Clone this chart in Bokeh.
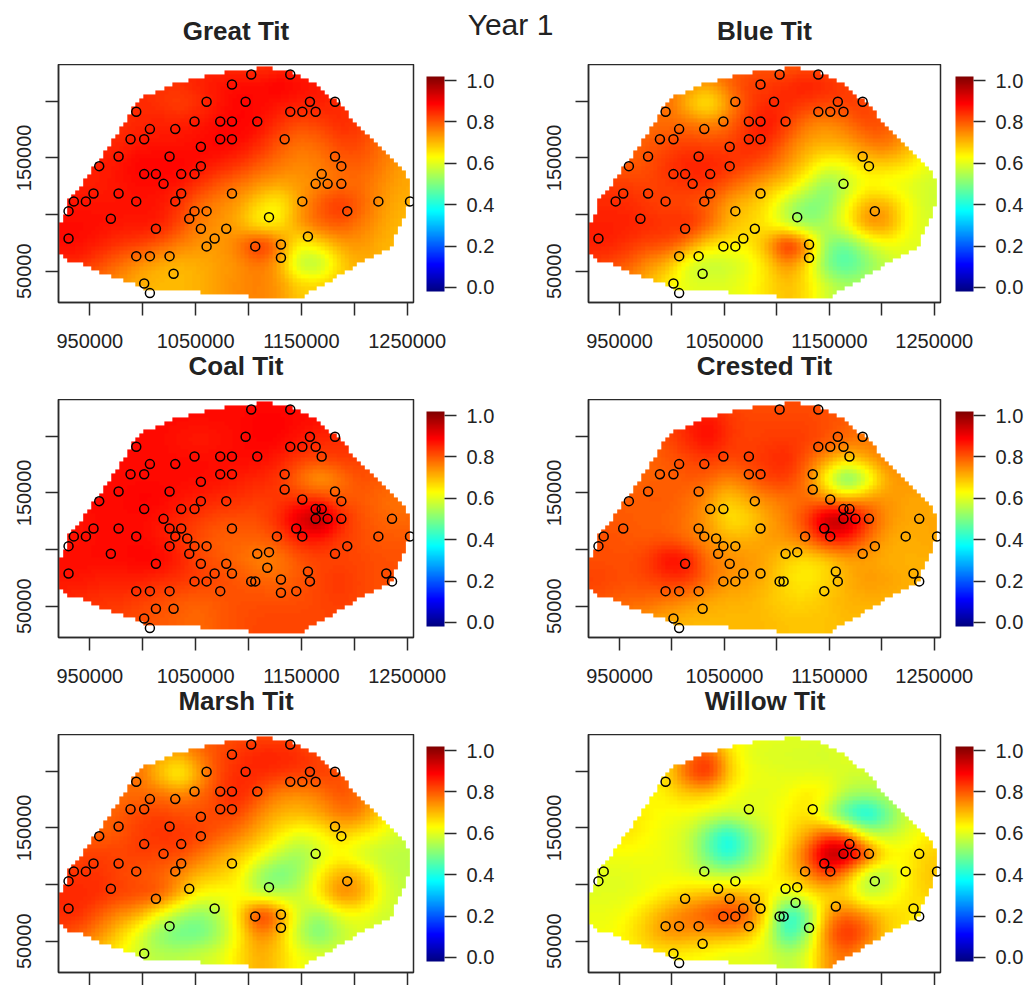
from bokeh.plotting import figure
from bokeh.layouts import column, row
from bokeh.models import ColorBar, FixedTicker, LinearColorMapper, NumeralTickFormatter, Range1d
from bokeh.core.properties import value
from bokeh.embed import file_html
from bokeh.resources import INLINE
import numpy as np

FONT = "Liberation Sans"
X_RANGE = (920400, 1256000)
Y_RANGE = (22400, 232400)
X_TICKS = [950000, 1000000, 1050000, 1100000, 1150000, 1200000, 1250000]
X_LABELLED = [950000, 1050000, 1150000, 1250000]
Y_TICKS = [50000, 100000, 150000, 200000]
Y_LABELLED = [50000, 150000]
BAR_TICKS = [0.0, 0.2, 0.4, 0.6, 0.8, 1.0]

# survey sites, thousands of map units
site_x = [1102.6,1139.5,1097.3,1158.1,1181.8,993.9,1139.5,1150.9,1163.5,1169.2,
          1049.0,1073.3,1084.4,1108.3,1006.8,1030.8,988.5,1001.4,1073.3,1084.4,
          1134.2,1055.0,977.2,1025.4,1134.2,1181.8,958.9,1055.0,1079.0,1150.9,
          1187.8,1001.4,1036.4,1049.0,1163.5,1169.2,1019.7,1163.5,1174.8,1187.8,
          1235.7,953.5,977.2,1025.4,1036.4,1084.4,1145.2,934.9,946.3,993.9,
          1030.8,1042.1,1126.9,1150.9,1222.8,1252.7,929.9,1025.4,1049.0,1060.4,
          1193.4,969.9,1044.0,1108.3,1119.4,1181.8,1012.5,1055.0,1079.0,1117.8,
          929.9,1068.0,1084.4,1156.2,1230.3,1049.0,1060.4,1102.6,1106.4,1130.7,
          1158.1,1235.7,993.9,1006.8,1025.4,1073.3,1130.7,1145.2,1012.5,1029.2,
          1001.4,1006.8,1084.4,1012.5,1060.4]
site_y = [223.6,223.6,199.5,199.5,199.5,190.7,190.7,190.7,190.7,182.1,
          182.1,182.1,182.1,182.1,175.4,175.4,166.5,166.5,166.5,166.5,
          166.5,159.8,151.3,151.3,153.0,151.3,142.7,142.7,142.7,144.2,
          142.7,135.7,135.7,135.7,135.7,135.7,127.1,127.1,127.1,127.1,
          127.1,118.6,118.6,118.6,118.6,118.6,118.6,111.6,111.6,111.6,
          111.6,109.8,111.6,111.6,111.6,111.6,103.0,103.0,103.0,103.0,
          103.0,96.3,96.3,96.3,97.7,96.3,87.5,87.5,87.5,83.9,
          78.9,78.9,78.9,80.7,78.9,71.9,71.9,71.9,71.9,73.6,
          71.9,71.9,63.3,63.3,63.3,63.3,61.9,63.3,47.8,47.8,
          39.2,30.7,214.8,135.7,199.5]

# sites (1-based) at which each species was recorded
great_sites = [1,2,93,3,4,5,6,7,8,9,95,11,12,13,14,15,16,17,18,19,20,21,22,23,24,26,27,28,32,94,33,34,
               31,36,37,38,39,40,42,43,45,46,48,49,50,51,54,55,56,57,59,60,61,62,63,65,67,68,69,71,72,
               74,77,79,80,83,84,85,87,90,91,92]
blue_sites = [1,2,93,3,4,5,95,6,7,8,9,11,12,13,14,15,16,17,18,19,20,22,23,24,26,27,28,31,32,94,33,38,37,
              42,49,43,45,46,50,51,60,61,65,62,67,69,71,72,77,76,84,85,80,87,90,91,92]
coal_sites = [i for i in range(1, 93)]
crested_sites = [1,2,4,5,7,8,9,10,11,12,15,16,17,18,19,20,21,25,23,24,27,29,30,33,34,35,36,38,39,40,41,42,
                 44,46,47,48,51,52,53,54,55,56,57,59,60,61,64,65,66,63,67,68,72,73,74,76,77,78,79,81,75,
                 82,83,84,85,88,90,91,92]
marsh_sites = [1,2,93,3,4,5,95,6,7,8,9,11,12,13,14,15,16,17,18,19,20,22,23,24,26,27,28,31,32,33,37,38,42,
               43,45,46,48,49,50,51,57,62,63,65,67,71,72,85,61,79,80,87,91]
willow_sites = [6,19,21,48,57,51,60,63,67,68,69,72,73,76,77,78,79,86,83,84,85,90,91,92,65,64,70,87,74,36,
                38,39,40,47,54,53,41,55,56,61,75,82]

# outline of the mapped region
outline_x = [1108.0,1108.0,1082.8,1060.7,1038.6,1024.5,1011.8,998.6,991.3,982.5,977.2,969.3,958.2,945.6,
             940.9,929.9,924.2,922.9,922.9,928.3,944.0,956.7,969.3,988.2,1008.7,1054.4,1054.4,1100.1,
             1100.1,1150.6,1156.9,1171.1,1183.7,1204.2,1219.9,1235.7,1235.7,1245.2,1251.5,1251.5,1245.2,
             1235.7,1223.1,1207.3,1194.7,1182.1,1169.5,1155.3,1141.1,1120.6,1120.6]
outline_y = [232.4,228.9,227.1,222.1,217.7,213.3,207.4,203.0,194.2,180.9,172.1,161.8,147.1,131.0,
             122.2,111.9,92.8,91.3,63.4,58.9,56.0,50.1,45.7,39.8,32.5,31.9,29.0,29.0,
             26.6,26.6,32.5,36.9,45.7,56.0,63.4,72.2,79.5,94.2,111.9,128.0,138.3,
             148.6,158.9,173.6,188.3,200.1,210.4,219.2,225.1,229.5,232.4]

# surfaces on a coarse lattice, hundredths; first row is the northernmost
lattice_x = [920.4,939.3,958.2,977.2,996.1,1015.0,1033.9,1052.8,1071.7,1090.7,1109.6,1128.5,1147.4,1166.3,1185.3,1204.2,1223.1,1242.0,1260.9]
lattice_y = [232.4,214.8,197.1,179.5,161.8,144.2,126.6,108.9,91.3,73.6,56.0,38.4]

great_z = [
 [85,85,85,85,85,85,85,85,85,84,83,84,85,85,85,85,80,76,74],
 [85,85,85,85,85,84,84,86,87,88,88,90,88,87,85,83,80,76,74],
 [84,84,84,85,85,84,82,84,87,89,88,87,86,86,85,83,80,76,74],
 [84,85,85,84,85,86,86,87,88,89,88,84,81,82,85,84,79,76,74],
 [84,85,85,85,87,87,87,88,89,88,85,80,77,78,82,82,78,75,73],
 [84,85,86,87,89,89,89,88,86,84,80,77,75,76,79,80,77,73,72],
 [86,86,86,87,88,88,87,84,80,77,74,72,73,75,77,78,75,72,72],
 [87,87,87,87,87,87,84,78,75,73,66,62,73,80,85,80,74,71,71],
 [88,88,88,87,87,87,82,76,74,71,62,64,74,79,81,77,73,70,70],
 [88,88,86,84,83,80,76,74,73,77,88,78,62,66,72,74,71,70,70],
 [85,85,82,78,74,71,70,71,73,74,77,72,55,53,66,72,70,70,70],
 [80,78,76,74,71,70,70,71,73,75,76,74,68,68,70,70,70,70,70]]
blue_z = [
 [80,80,80,80,80,80,80,80,80,80,79,80,81,80,78,75,70,65,60],
 [80,80,80,80,78,74,72,78,83,83,85,87,85,83,81,77,72,65,60],
 [79,79,79,79,78,69,62,73,82,85,85,83,82,83,83,79,74,65,60],
 [78,79,79,77,78,78,76,78,84,88,83,76,74,77,82,81,74,66,60],
 [78,79,79,80,82,83,82,82,85,85,78,72,71,72,76,78,72,65,60],
 [80,80,79,81,84,86,86,85,83,80,74,68,61,63,68,68,66,61,59],
 [83,83,83,82,83,84,84,80,76,71,68,60,50,56,62,60,60,58,58],
 [85,85,85,83,82,81,79,72,69,66,55,49,50,62,72,72,63,58,58],
 [86,86,86,85,84,86,80,71,68,64,56,50,55,64,76,75,63,59,59],
 [86,86,84,82,82,76,66,65,64,72,91,78,50,47,56,62,60,60,60],
 [83,82,80,74,70,58,56,57,60,66,75,66,48,43,50,56,60,60,60],
 [78,76,74,70,64,60,60,60,62,66,70,66,58,54,56,60,60,60,60]]
coal_z = [
 [88,88,88,88,88,88,88,88,88,88,88,88,88,88,86,84,82,80,79],
 [88,88,88,88,88,88,88,88,88,88,89,89,88,88,86,84,82,80,79],
 [88,88,88,88,88,88,87,86,87,88,89,89,87,85,85,84,82,80,79],
 [88,88,88,88,88,88,88,88,88,88,88,86,83,82,83,83,81,80,79],
 [88,88,88,88,88,88,88,88,87,86,85,84,77,71,76,81,80,79,78],
 [88,88,88,88,89,89,87,86,85,84,83,83,84,84,80,80,78,77,77],
 [87,87,88,88,88,87,85,83,81,81,81,85,94,100,87,81,79,78,79],
 [87,87,88,88,88,87,84,81,79,79,79,81,86,86,83,81,80,80,80],
 [88,88,88,88,89,89,86,82,80,78,75,76,80,82,82,82,81,81,80],
 [87,87,86,86,86,85,84,83,82,80,79,78,80,82,84,82,81,81,80],
 [85,85,84,84,83,81,80,79,80,81,81,81,81,82,83,82,81,80,80],
 [83,83,83,82,81,80,79,78,80,81,82,82,82,82,82,82,81,80,80]]
crested_z = [
 [80,80,80,80,80,81,82,82,81,81,81,81,81,80,78,76,74,72,72],
 [80,80,80,80,82,86,88,84,82,82,82,82,81,80,78,76,74,72,72],
 [79,79,79,79,82,85,89,84,82,83,83,83,81,78,77,77,75,72,72],
 [78,79,79,79,80,82,83,82,83,84,86,80,73,68,72,77,75,73,72],
 [78,79,79,79,79,80,79,75,78,83,83,77,60,42,56,72,74,73,72],
 [79,80,79,80,80,78,74,67,72,75,77,78,75,72,75,74,72,72,71],
 [80,80,80,79,79,77,73,65,66,72,76,83,99,99,84,74,72,72,72],
 [81,81,80,80,80,77,74,71,71,73,74,78,87,86,78,72,71,72,72],
 [81,81,81,83,90,88,77,75,74,72,67,65,67,72,72,71,71,71,71],
 [83,82,81,82,84,84,78,74,73,71,66,64,67,71,74,73,71,71,71],
 [81,80,79,79,77,75,72,71,71,69,67,67,69,71,71,71,71,71,71],
 [78,77,75,73,71,70,70,70,70,70,69,69,69,70,70,70,70,70,70]]
marsh_z = [
 [80,80,80,80,80,80,80,80,80,81,81,81,81,80,78,75,70,64,60],
 [80,80,80,80,78,72,71,77,82,84,86,86,85,82,80,76,70,64,60],
 [78,78,78,78,78,69,60,72,82,85,85,84,83,83,82,77,70,63,60],
 [77,77,77,77,78,78,76,78,83,86,81,75,74,76,81,79,70,62,59],
 [76,77,78,80,82,83,81,81,82,82,75,71,70,72,77,77,68,60,58],
 [79,79,79,80,83,84,84,83,80,76,71,65,60,62,68,65,62,58,57],
 [82,82,83,82,83,82,82,78,73,69,64,57,52,58,62,58,56,56,56],
 [84,84,84,82,80,79,75,70,68,65,52,47,52,64,72,71,60,56,56],
 [85,85,85,83,82,82,72,63,62,63,55,55,57,66,77,75,62,57,57],
 [85,85,80,75,72,62,54,50,55,66,89,78,58,52,60,62,58,58,58],
 [82,80,75,68,60,50,47,47,53,64,76,70,55,47,55,60,58,58,58],
 [75,72,68,64,58,56,56,58,60,66,72,68,62,60,60,60,60,60,60]]
willow_z = [
 [62,62,62,62,62,62,62,62,62,61,60,60,60,60,60,60,60,60,60],
 [63,63,63,63,66,78,84,68,60,59,59,59,58,60,61,60,60,60,60],
 [63,63,63,64,67,81,87,70,62,61,60,60,60,59,58,58,60,60,60],
 [63,63,63,63,65,68,67,63,60,60,62,66,64,55,54,56,60,60,60],
 [64,65,66,64,62,62,60,58,60,61,64,66,55,40,33,46,58,60,60],
 [64,65,66,63,61,58,47,37,48,58,65,72,82,78,58,56,60,64,66],
 [62,62,62,62,61,58,47,37,48,59,68,80,100,100,84,66,64,68,68],
 [60,60,60,61,61,60,57,56,58,62,68,74,84,72,54,55,64,69,69],
 [60,60,60,62,65,68,70,72,70,66,59,65,66,65,55,60,65,68,68],
 [61,61,63,68,74,78,82,85,82,66,38,46,73,80,74,68,66,64,64],
 [62,62,65,70,75,74,72,72,70,60,40,52,78,87,80,68,64,64,64],
 [62,62,63,64,64,63,62,60,60,60,56,60,74,78,70,64,64,64,64]]


def jet(n=256):
    t = (np.arange(n) + 0.5) / n
    out = []
    for v in t:
        r = np.clip(min(4 * v - 1.5, -4 * v + 4.5), 0, 1)
        g = np.clip(min(4 * v - 0.5, -4 * v + 3.5), 0, 1)
        b = np.clip(min(4 * v + 0.5, -4 * v + 2.5), 0, 1)
        out.append("#%02x%02x%02x" % (int(r * 255), int(g * 255), int(b * 255)))
    return out


mapper = LinearColorMapper(palette=jet(), low=-0.02, high=1.02, nan_color="rgba(0,0,0,0)")

cell_x = np.arange(922.9 - 1.9, 1256, 3.8)
cell_y = np.arange(22.4, 232.4, 3.53)
grid_x, grid_y = np.meshgrid(cell_x + 1.9, cell_y + 1.76)


def inside(px, py, vx, vy):
    vx, vy = np.asarray(vx), np.asarray(vy)
    res = np.zeros(px.shape, bool)
    j = len(vx) - 1
    for i in range(len(vx)):
        cross = (vy[i] > py) != (vy[j] > py)
        with np.errstate(divide="ignore", invalid="ignore"):
            at = (vx[j] - vx[i]) * (py - vy[i]) / (vy[j] - vy[i]) + vx[i]
        res ^= cross & (px < at)
        j = i
    return res


region = inside(grid_x, grid_y, outline_x, outline_y)


def surface(rows):
    z = np.asarray(rows, float)[::-1] / 100.0
    ly = np.asarray(lattice_y)[::-1]
    along = np.array([np.interp(grid_x[0], lattice_x, r) for r in z])
    full = np.array([np.interp(grid_y[:, 0], ly, along[:, i]) for i in range(along.shape[1])]).T
    for _ in range(5):
        pad = np.pad(full, 1, mode="edge")
        full = sum(pad[1 + a:pad.shape[0] - 1 + a, 1 + b:pad.shape[1] - 1 + b]
                   for a in (-1, 0, 1) for b in (-1, 0, 1)) / 9.0
    full[~region] = np.nan
    return full


def panel(rows, sites, col, last):
    fw = 355 if col == 0 else 352
    mr = 125 if col == 0 else 84
    p = figure(frame_width=fw, frame_height=238, x_range=Range1d(*X_RANGE), y_range=Range1d(*Y_RANGE),
               toolbar_location=None, output_backend="svg", min_border_left=50, min_border_right=mr,
               min_border_top=0, min_border_bottom=12 if last else 48)
    p.grid.visible = False
    p.background_fill_color = "white"
    p.outline_line_color = "#2a2a2a"
    p.outline_line_width = 1.5
    p.image(image=[surface(rows)], x=cell_x[0] * 1000, y=cell_y[0] * 1000,
            dw=(cell_x[-1] - cell_x[0] + 3.8) * 1000, dh=(cell_y[-1] - cell_y[0] + 3.53) * 1000,
            color_mapper=mapper)
    idx = np.asarray(sites) - 1
    p.scatter(np.asarray(site_x)[idx] * 1000, np.asarray(site_y)[idx] * 1000, marker="circle", size=9,
              fill_color=None, line_color="black", line_width=1.5)
    for ax, ticks, named in ((p.xaxis, X_TICKS, X_LABELLED), (p.yaxis, Y_TICKS, Y_LABELLED)):
        ax.ticker = FixedTicker(ticks=ticks)
        ax.major_label_overrides = {t: (f"{t}" if t in named else "") for t in ticks}
        ax.major_tick_in = 0
        ax.major_tick_out = 13
        ax.minor_tick_line_color = None
        ax.major_tick_line_color = "#2a2a2a"
        ax.major_tick_line_width = 1.5
        ax.axis_line_color = "#2a2a2a"
        ax.axis_line_width = 1.5
        ax.major_label_text_font = FONT
        ax.major_label_text_font_size = "20px"
        ax.major_label_text_color = "#222222"
    p.xaxis.major_label_standoff = 18
    p.xaxis.major_label_text_line_height = 0.7
    p.yaxis.major_label_standoff = 14
    p.yaxis.major_label_orientation = "vertical"
    if last:
        p.xaxis.major_label_overrides = {t: "" for t in X_TICKS}
        p.xaxis.major_label_standoff = 0
        p.xaxis.major_label_text_font_size = "1px"
    cb = ColorBar(color_mapper=mapper, width=18, height=215, location=(13 if col == 0 else 15, 11),
                  ticker=FixedTicker(ticks=BAR_TICKS), major_tick_in=0, major_tick_out=12,
                  major_tick_line_color="#2a2a2a", major_tick_line_width=1.5, bar_line_color=None,
                  border_line_color=None, background_fill_color=None, padding=0, margin=0,
                  label_standoff=10, major_label_text_font=FONT, major_label_text_font_size="20px",
                  major_label_text_color="#222222", formatter=NumeralTickFormatter(format="0.0"))
    p.add_layout(cb, "right")
    return p


def strip(height, items):
    s = figure(width=1016, height=height, x_range=Range1d(0, 1016), y_range=Range1d(height, 0),
               toolbar_location=None, output_backend="svg", min_border=0)
    s.axis.visible = False
    s.grid.visible = False
    s.outline_line_color = None
    for txt, x, y, bold, size in items:
        s.text([x], [y], text=[txt], text_font=value(FONT), text_font_size=size,
               text_font_style="bold" if bold else "normal", text_align="center",
               text_baseline="middle", text_color="#222222")
    return s


top = strip(56, [("Great Tit", 227.5, 22, True, "26px"), ("Year 1", 502, 16, False, "30px"),
                 ("Blue Tit", 756, 22, True, "26px")])
mid = strip(49, [("Coal Tit", 227.5, 15, True, "26px"), ("Crested Tit", 756, 15, True, "26px")])
low = strip(49, [("Marsh Tit", 227.5, 15, True, "26px"), ("Willow Tit", 756.5, 15, True, "26px")])

page = column(top,
              row(panel(great_z, great_sites, 0, False), panel(blue_z, blue_sites, 1, False)),
              mid,
              row(panel(coal_z, coal_sites, 0, False), panel(crested_z, crested_sites, 1, False)),
              low,
              row(panel(marsh_z, marsh_sites, 0, True), panel(willow_z, willow_sites, 1, True)),
              margin=(8, 0, 0, 8))

open("out.html", "w").write(file_html(page, INLINE))
